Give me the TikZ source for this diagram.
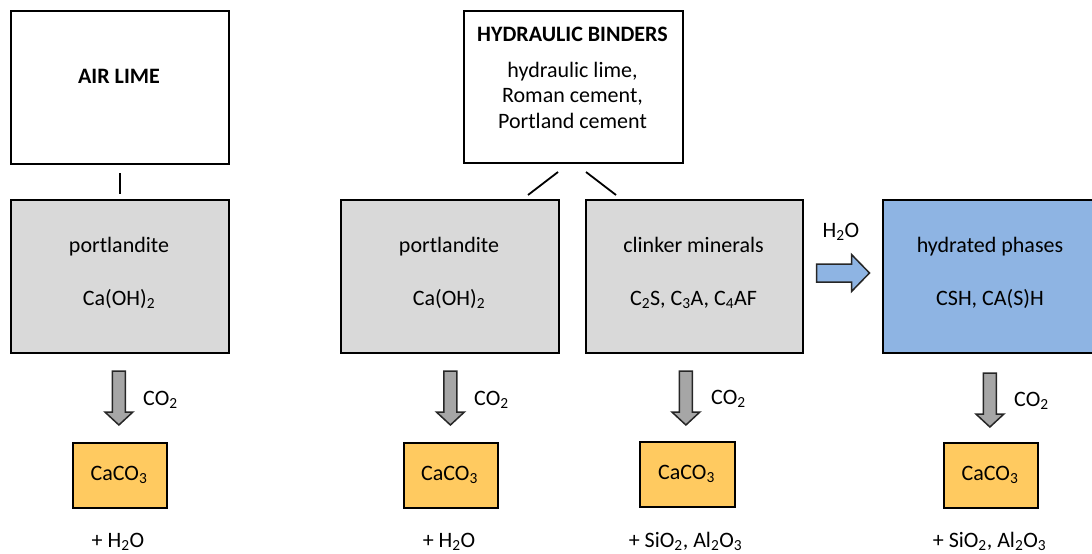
\documentclass[tikz,border=0pt]{standalone}
\usepackage{fontspec}
\setmainfont{Carlito}
\usetikzlibrary{calc}
\definecolor{greybox}{RGB}{217,217,217}
\definecolor{bluebox}{RGB}{142,180,227}
\definecolor{gold}{RGB}{255,202,96}
\definecolor{arrowgrey}{RGB}{166,166,166}
\begin{document}
\begin{tikzpicture}[x=1pt,y=-1pt,
  box/.style={draw=black, line width=2pt, inner sep=0pt, anchor=north west},
  bigbox/.style={box, minimum width=218pt, minimum height=153pt},
  greyb/.style={bigbox, fill=greybox},
  goldb/.style={box, fill=gold, line width=1.8pt, minimum width=94pt, minimum height=65pt},
  txt/.style={font=\fontsize{22}{25}\selectfont, inner sep=0pt, anchor=base},
  lbl/.style={font=\fontsize{22}{25}\selectfont, inner sep=0pt, anchor=base west},
  conn/.style={draw=black, line width=1.8pt},
  blockarrow/.style={draw=black!85, line width=1.5pt, line join=miter},
  darrow/.pic={\path[blockarrow, fill=arrowgrey] (-6.5,-27) -- (6.5,-27) -- (6.5,14) -- (14,14) -- (0,27) -- (-14,14) -- (-6.5,14) -- cycle;},
  rarrow/.pic={\path[blockarrow, fill=bluebox] (-26.5,-9) -- (8.5,-9) -- (8.5,-18.5) -- (26.5,0) -- (8.5,18.5) -- (8.5,9) -- (-26.5,9) -- cycle;}
]
\useasboundingbox (0,0) rectangle (1092,554);
\clip (0,0) rectangle (1092,554);

% top boxes
\node[bigbox] (air) at (10,10) {};
\node[box, minimum width=219pt, minimum height=152pt] (hb) at (463,10) {};

% middle boxes
\node[greyb] (g1) at (10,199) {};
\node[greyb] (g2) at (340,199) {};
\node[greyb, minimum width=217pt] (g3) at (585,199) {};
\node[bigbox, fill=bluebox] (hyd) at (882,199) {};

% CaCO3 boxes
\node[goldb] (c1) at (72,442) {};
\node[goldb] (c2) at (403,442) {};
\node[goldb, minimum width=95pt] (c3) at (639,441) {};
\node[goldb] (c4) at (943,442) {};

% connectors
\draw[conn, shorten <=8pt, shorten >=5pt] (air.south) -- (g1.north);
\draw[conn] ($(hb.south)+(-15.5,8)$) -- ($(hb.south)+(-45.5,31)$);
\draw[conn] ($(hb.south)+(12.5,8)$) -- ($(hb.south)+(42.5,31)$);

% block arrows
\pic at ($(c1.north)+(-1,-44)$) {darrow};
\pic at ($(c2.north)+(-0.5,-44)$) {darrow};
\pic at ($(c3.north)+(-1.5,-43)$) {darrow};
\pic at ($(c4.north)+(-1,-42)$) {darrow};
\pic at ($(g3.east)!0.5!(hyd.west)+(0,-3.5)$) {rarrow};

% texts
\node[txt, font=\fontsize{22}{25}\selectfont\bfseries] at (119,83) {AIR LIME};
\node[txt, font=\fontsize{22}{25}\selectfont\bfseries] at (572.5,41) {HYDRAULIC BINDERS};
\node[txt] at (572.5,77) {hydraulic lime,};
\node[txt] at (572.5,102.5) {Roman cement,};
\node[txt] at (572.5,128) {Portland cement};

\node[txt] at (119,252) {portlandite};
\node[txt] at (119,305) {Ca(OH)\textsubscript{2}};
\node[txt] at (449,252) {portlandite};
\node[txt] at (449,305) {Ca(OH)\textsubscript{2}};
\node[txt] at (693.5,252) {clinker minerals};
\node[txt] at (693.5,305) {C\textsubscript{2}S, C\textsubscript{3}A, C\textsubscript{4}AF};
\node[txt] at (990,252) {hydrated phases};
\node[txt] at (990,305) {CSH, CA(S)H};

\node[txt] at (841,237) {H\textsubscript{2}O};

\node[lbl] at (143,405) {CO\textsubscript{2}};
\node[lbl] at (474,405) {CO\textsubscript{2}};
\node[lbl] at (711,404) {CO\textsubscript{2}};
\node[lbl] at (1014,406) {CO\textsubscript{2}};

\node[txt] at (119,480) {CaCO\textsubscript{3}};
\node[txt] at (449.5,480) {CaCO\textsubscript{3}};
\node[txt] at (686.5,479) {CaCO\textsubscript{3}};
\node[txt] at (990,480) {CaCO\textsubscript{3}};

\node[txt] at (118,547) {+ H\textsubscript{2}O};
\node[txt] at (449,547) {+ H\textsubscript{2}O};
\node[txt] at (685.5,547) {+ SiO\textsubscript{2}, Al\textsubscript{2}O\textsubscript{3}};
\node[txt] at (989.5,547) {+ SiO\textsubscript{2}, Al\textsubscript{2}O\textsubscript{3}};
\end{tikzpicture}
\end{document}
